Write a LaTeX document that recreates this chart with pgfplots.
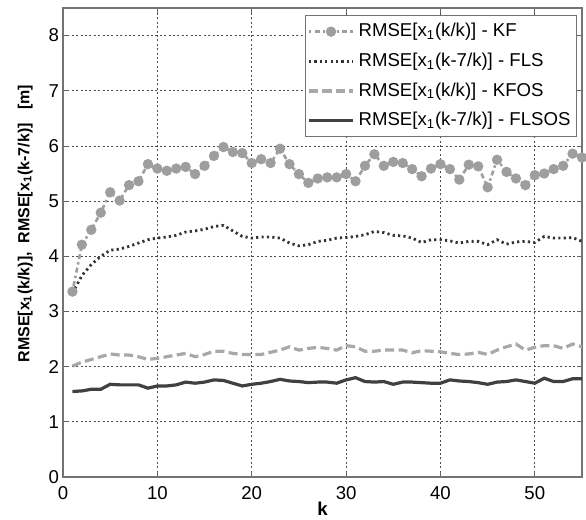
\documentclass[border=0pt]{standalone}
\usepackage{fontspec}
\setmainfont{Liberation Sans}
\usepackage{pgfplots}
\usepackage{pgfplotstable}
\pgfplotsset{compat=1.18}

\pgfplotstableread{
k kf fls kfos flsos
1 3.36 3.33 2.01 1.55
2 4.21 3.65 2.08 1.56
3 4.48 3.85 2.13 1.59
4 4.79 4.00 2.18 1.59
5 5.16 4.11 2.23 1.68
6 5.01 4.13 2.21 1.67
7 5.29 4.18 2.21 1.67
8 5.36 4.24 2.18 1.67
9 5.67 4.30 2.13 1.61
10 5.59 4.33 2.15 1.65
11 5.55 4.35 2.18 1.65
12 5.59 4.38 2.21 1.67
13 5.62 4.44 2.24 1.72
14 5.49 4.46 2.18 1.70
15 5.64 4.49 2.22 1.72
16 5.82 4.54 2.28 1.76
17 5.98 4.56 2.28 1.75
18 5.89 4.46 2.24 1.70
19 5.87 4.36 2.22 1.65
20 5.69 4.33 2.22 1.68
21 5.76 4.35 2.22 1.70
22 5.69 4.35 2.26 1.73
23 5.95 4.33 2.30 1.77
24 5.67 4.24 2.36 1.74
25 5.49 4.19 2.30 1.73
26 5.33 4.21 2.33 1.71
27 5.41 4.27 2.35 1.72
28 5.43 4.29 2.33 1.72
29 5.43 4.33 2.30 1.70
30 5.49 4.34 2.38 1.76
31 5.36 4.36 2.36 1.80
32 5.64 4.39 2.28 1.73
33 5.85 4.45 2.28 1.72
34 5.64 4.43 2.30 1.73
35 5.71 4.38 2.30 1.68
36 5.69 4.37 2.30 1.72
37 5.58 4.33 2.25 1.72
38 5.45 4.25 2.29 1.71
39 5.59 4.30 2.28 1.70
40 5.67 4.30 2.27 1.70
41 5.58 4.28 2.24 1.76
42 5.39 4.24 2.22 1.74
43 5.66 4.27 2.23 1.73
44 5.63 4.27 2.26 1.71
45 5.25 4.21 2.22 1.68
46 5.75 4.30 2.30 1.72
47 5.53 4.22 2.36 1.73
48 5.41 4.26 2.41 1.76
49 5.29 4.27 2.30 1.73
50 5.47 4.25 2.35 1.70
51 5.50 4.36 2.38 1.79
52 5.58 4.33 2.38 1.73
53 5.64 4.33 2.33 1.73
54 5.86 4.34 2.41 1.78
55 5.79 4.27 2.36 1.78
}\datatable

\definecolor{kfgray}{gray}{0.62}
\definecolor{flsgray}{gray}{0.2}
\definecolor{kfosgray}{gray}{0.66}
\definecolor{flsosgray}{gray}{0.25}

\begin{document}
\begin{tikzpicture}
\begin{axis}[
  scale only axis,
  width=259.5bp, height=234.5bp,
  xmin=0, xmax=55, ymin=0, ymax=8.5,
  xtick={0,10,20,30,40,50},
  ytick={0,1,2,3,4,5,6,7,8},
  tick align=inside,
  major tick length=2.5bp,
  axis line style={black!55, line width=0.6bp},
  tick style={black!60, line width=0.4bp},
  grid=major,
  major grid style={black!70, line width=0.4bp, dash pattern=on 1bp off 1.2bp},
  /pgf/number format/assume math mode=true,
  ticklabel style={font=\fontsize{9.3bp}{10bp}\selectfont},
  xticklabel style={yshift=-1bp},
  yticklabel style={xshift=1.5bp},
  xlabel={\textbf{k}},
  xlabel style={font=\fontsize{9.3bp}{10bp}\selectfont, at={(axis description cs:0.5,0)}, anchor=north, yshift=-9bp},
  ylabel={\textbf{RMSE[x\textsubscript{1}(k/k)],~~RMSE[x\textsubscript{1}(k-7/k)]~~~[m]}},
  ylabel style={font=\fontsize{8bp}{9bp}\selectfont, at={(axis description cs:-0.073,0.54)}, anchor=center},
  legend style={at={(rel axis cs:0.990,0.985)}, anchor=north east,
    draw=black!55, line width=0.4bp, fill=white,
    font=\fontsize{9.3bp}{10bp}\selectfont,
    row sep=2.6bp, inner xsep=1bp, inner ysep=2bp},
  legend cell align=left,
  legend image code/.code={%
    \draw[mark repeat=2,mark phase=2,#1] plot coordinates {(0bp,0bp) (11bp,0bp) (22bp,0bp)};},
]
\addplot[kfgray, line width=1.3bp, dash pattern=on 1.2bp off 1.6bp on 2.5bp off 1.6bp,
  mark=*, mark size=1.9bp, mark options={solid, fill=kfgray, draw=kfgray}]
  table[x=k, y=kf] {\datatable};
\addlegendentry{RMSE[x\textsubscript{1}(k/k)] - KF}
\addplot[flsgray, line width=1.4bp, dash pattern=on 1.1bp off 1.6bp]
  table[x=k, y=fls] {\datatable};
\addlegendentry{RMSE[x\textsubscript{1}(k-7/k)] - FLS}
\addplot[kfosgray, line width=1.6bp, dash pattern=on 4.5bp off 2.2bp]
  table[x=k, y=kfos] {\datatable};
\addlegendentry{RMSE[x\textsubscript{1}(k/k)] - KFOS}
\addplot[flsosgray, line width=1.6bp]
  table[x=k, y=flsos] {\datatable};
\addlegendentry{RMSE[x\textsubscript{1}(k-7/k)] - FLSOS}
\end{axis}
\pgfresetboundingbox
\path ([shift={(-31.5bp,-21.5bp)}]current axis.south west) rectangle ([shift={(2bp,4bp)}]current axis.north east);
\end{tikzpicture}
\end{document}
